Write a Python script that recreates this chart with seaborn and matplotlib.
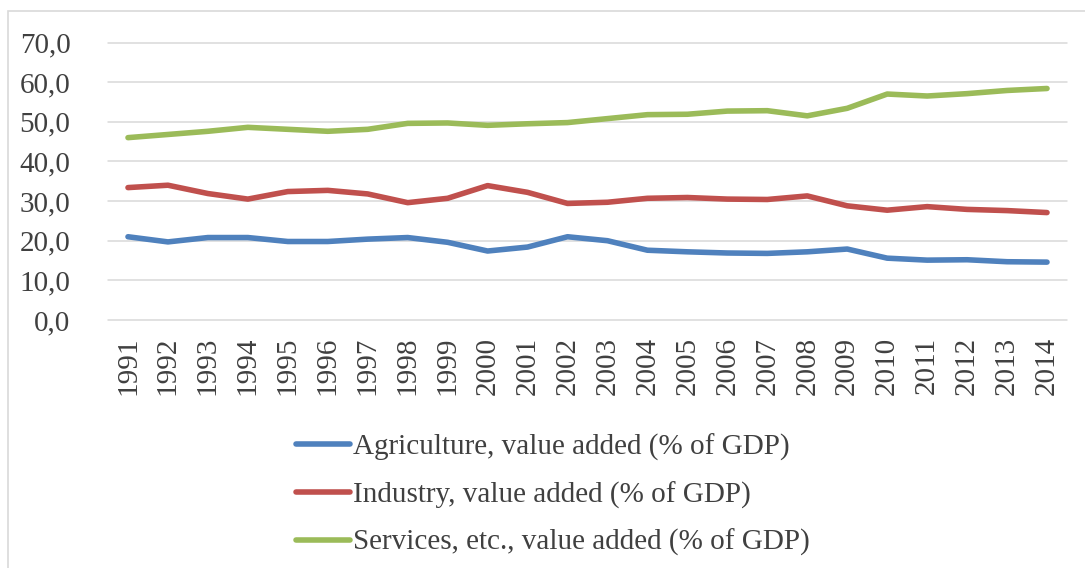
import pandas as pd
import seaborn as sns
import matplotlib.pyplot as plt
from matplotlib.patches import Rectangle

# Data
years = list(range(1991, 2015))
agriculture = [21.0, 19.7, 20.8, 20.8, 19.8, 19.8, 20.4, 20.8, 19.6, 17.4, 18.4, 21.0,
               20.0, 17.6, 17.2, 16.9, 16.8, 17.2, 17.9, 15.6, 15.1, 15.2, 14.7, 14.6]
industry = [33.4, 34.0, 31.9, 30.5, 32.4, 32.7, 31.8, 29.6, 30.7, 33.9, 32.2, 29.4,
            29.7, 30.7, 30.9, 30.5, 30.4, 31.3, 28.8, 27.7, 28.6, 27.9, 27.6, 27.1]
services = [46.0, 46.8, 47.6, 48.6, 48.1, 47.6, 48.1, 49.6, 49.7, 49.1, 49.5, 49.8,
            50.8, 51.8, 51.9, 52.7, 52.8, 51.5, 53.4, 57.0, 56.5, 57.1, 57.9, 58.4]
series_names = ['Agriculture, value added (% of GDP)',
                'Industry, value added (% of GDP)',
                'Services, etc., value added (% of GDP)']
colors = ['#4f81bd', '#c0504d', '#9bbb59']

df = pd.DataFrame({'year': years * 3,
                   'value': agriculture + industry + services,
                   'series': [s for s in series_names for _ in years]})

sns.set_style('white')
plt.rcParams['font.family'] = ['Liberation Serif', 'DejaVu Serif']
text_color = '#404040'
fs = 21

fig = plt.figure(figsize=(10.85, 5.68), dpi=100)
ax = fig.add_axes([108 / 1085, 1 - 320 / 568, (1067 - 108) / 1085, (320 - 42.5) / 568])

sns.lineplot(data=df, x='year', y='value', hue='series', palette=colors,
             linewidth=4.0, ax=ax, legend=True)
for line in ax.lines:
    line.set_solid_capstyle('round')
    line.set_solid_joinstyle('round')

ax.set_xlim(years[0] - 0.5, years[-1] + 0.5)
ax.set_ylim(0, 70)
ax.set_yticks(range(0, 71, 10))
ax.set_yticklabels([f'{v},0' for v in range(0, 71, 10)])
ax.set_xticks(years)
ax.set_xticklabels([str(y) for y in years], rotation=90)
ax.tick_params(axis='y', length=0, pad=27, labelsize=fs, labelcolor=text_color)
ax.tick_params(axis='x', length=0, pad=12, labelsize=fs, labelcolor=text_color)
ax.set_xlabel('')
ax.set_ylabel('')
ax.grid(axis='y', color='#d9d9d9', linewidth=1.1)
ax.grid(axis='x', visible=False)
ax.set_axisbelow(True)
for sp in ax.spines.values():
    sp.set_visible(False)
for gl in ax.get_ygridlines():
    gl.set_clip_on(False)

handles, labels = ax.get_legend_handles_labels()
ax.legend(handles, labels, loc='center left', bbox_to_anchor=(296 / 1085, 1 - 495 / 568),
          bbox_transform=fig.transFigure, frameon=False, fontsize=fs,
          handlelength=1.85, handletextpad=0.1, labelspacing=0.7,
          borderpad=0, borderaxespad=0, labelcolor=text_color)

# chart frame
fig.patches.append(Rectangle((8 / 1085, -0.1), 1.2, 1.1 - 11.5 / 568,
                             transform=fig.transFigure, fill=False,
                             edgecolor='#d9d9d9', linewidth=1.2))

fig.savefig('out.png', dpi=100)
